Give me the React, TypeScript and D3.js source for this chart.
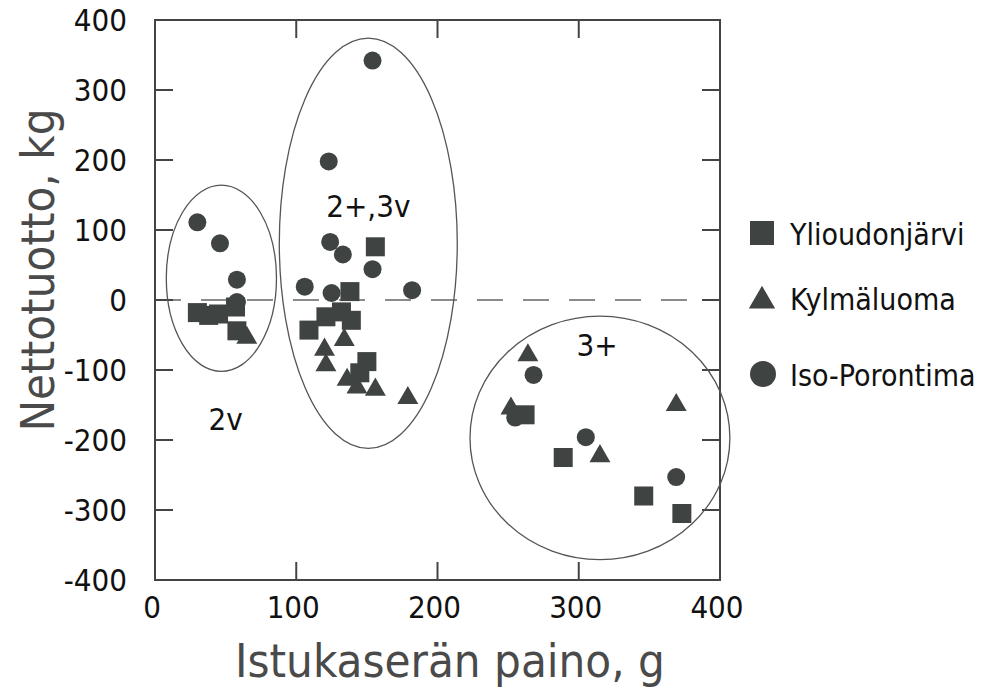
import * as d3 from 'd3';

// Ylioudonjärvi (squares)
const ylioudonjarvi: [number, number][] = [
  [30, -18], [38, -22], [45, -20], [57, -10], [58, -44],
  [156, 76], [138, 12], [132, -17], [121, -24], [139, -29], [109, -43], [150, -88], [145, -104],
  [262, -164], [289, -225], [346, -280], [373, -305],
];

// Kylmäluoma (triangles)
const kylmaluoma: [number, number][] = [
  [65, -54],
  [134, -57], [120, -71], [121, -93], [136, -114], [143, -125], [156, -128], [179, -140],
  [264, -79], [252, -155], [369, -150], [315, -223],
];

// Iso-Porontima (circles)
const isoPorontima: [number, number][] = [
  [30, 111], [46, 81], [58, 29], [58, -3],
  [154, 342], [123, 198], [124, 83], [133, 65], [154, 44], [106, 19], [125, 10], [182, 14],
  [268, -107], [255, -168], [305, -196], [369, -253],
];

// group ellipses: label, centre x, centre y, radius x, radius y (data units)
const groups = [
  { label: '2v', cx: 47, cy: 31, rx: 39, ry: 133, lx: 50, ly: -170 },
  { label: '2+,3v', cx: 151, cy: 81, rx: 63, ry: 293, lx: 151, ly: 135 },
  { label: '3+', cx: 315, cy: -197, rx: 92, ry: 174, lx: 313, ly: -64 },
];

const xTicks = [0, 100, 200, 300, 400];
const yTicks = [400, 300, 200, 100, 0, -100, -200, -300, -400];

const W = 987;
const H = 694;
const MARK = '#3f4443';
const FONT = '"Liberation Sans Narrow", "DejaVu Sans Condensed", "Liberation Sans", sans-serif';

export default function App() {
  const x = d3.scaleLinear().domain([0, 400]).range([155, 720]);
  const y = d3.scaleLinear().domain([-400, 400]).range([580, 20]);
  const tri = d3.symbol().type(d3.symbolTriangle).size(190)();
  const triLegend = d3.symbol().type(d3.symbolTriangle).size(300)();
  const tickLen = 18;
  const inner = [100, 200, 300];
  const innerY = [-300, -200, -100, 0, 100, 200, 300];

  return (
    <svg width={W} height={H} style={{ position: 'absolute', left: 0, top: 0, background: '#fff' }} fontFamily={FONT}>
      {/* zero line */}
      <line x1={x(0)} x2={x(400)} y1={y(0)} y2={y(0)} stroke="#666" strokeWidth={1.5} strokeDasharray="26 20" />

      {/* frame */}
      <rect x={x(0)} y={y(400)} width={x(400) - x(0)} height={y(-400) - y(400)} fill="none" stroke="#444" strokeWidth={2} />
      {innerY.map(v => (
        <g key={'yt' + v}>
          <line x1={x(0)} x2={x(0) + tickLen} y1={y(v)} y2={y(v)} stroke="#444" strokeWidth={2} />
          <line x1={x(400)} x2={x(400) - tickLen} y1={y(v)} y2={y(v)} stroke="#444" strokeWidth={2} />
        </g>
      ))}
      {inner.map(v => (
        <g key={'xt' + v}>
          <line x1={x(v)} x2={x(v)} y1={y(-400)} y2={y(-400) - tickLen} stroke="#444" strokeWidth={2} />
          <line x1={x(v)} x2={x(v)} y1={y(400)} y2={y(400) + tickLen} stroke="#444" strokeWidth={2} />
        </g>
      ))}

      {/* tick labels */}
      {yTicks.map(v => (
        <text key={'yl' + v} x={127} y={y(v)} dy="0.36em" textAnchor="end" fontSize={31} fill="#111">
          {v}
        </text>
      ))}
      {xTicks.map(v => (
        <text key={'xl' + v} x={x(v) - 3} y={607} dy="0.36em" textAnchor="middle" fontSize={31} fill="#111">
          {v}
        </text>
      ))}

      {/* axis titles */}
      <text x={450} y={677} textAnchor="middle" fontSize={47} fill="#4a4a4a">
        Istukaserän paino, g
      </text>
      <text transform="translate(54,270) rotate(-90)" textAnchor="middle" fontSize={47} fill="#4a4a4a">
        Nettotuotto, kg
      </text>

      {/* group ellipses */}
      {groups.map(g => (
        <g key={g.label}>
          <ellipse
            cx={x(g.cx)}
            cy={y(g.cy)}
            rx={x(g.rx) - x(0)}
            ry={y(0) - y(g.ry)}
            fill="none"
            stroke="#555"
            strokeWidth={1.3}
          />
          <text x={x(g.lx)} y={y(g.ly)} dy="0.36em" textAnchor="middle" fontSize={31} fill="#111">
            {g.label}
          </text>
        </g>
      ))}

      {/* points */}
      {ylioudonjarvi.map(([a, b], i) => (
        <rect key={'s' + i} x={x(a) - 9.5} y={y(b) - 9.5} width={19} height={19} fill={MARK} />
      ))}
      {kylmaluoma.map(([a, b], i) => (
        <path key={'t' + i} d={tri} transform={`translate(${x(a)},${y(b)})`} fill={MARK} />
      ))}
      {isoPorontima.map(([a, b], i) => (
        <circle key={'c' + i} cx={x(a)} cy={y(b)} r={9} fill={MARK} />
      ))}

      {/* legend */}
      <rect x={750} y={221} width={24} height={24} fill={MARK} />
      <text x={790} y={245} fontSize={30} fill="#111">Ylioudonjärvi</text>
      <path d={triLegend} transform="translate(762,301)" fill={MARK} />
      <text x={790} y={310} fontSize={30} fill="#111">Kylmäluoma</text>
      <circle cx={763} cy={374} r={13} fill={MARK} />
      <text x={790} y={386} fontSize={30} fill="#111">Iso-Porontima</text>
    </svg>
  );
}
